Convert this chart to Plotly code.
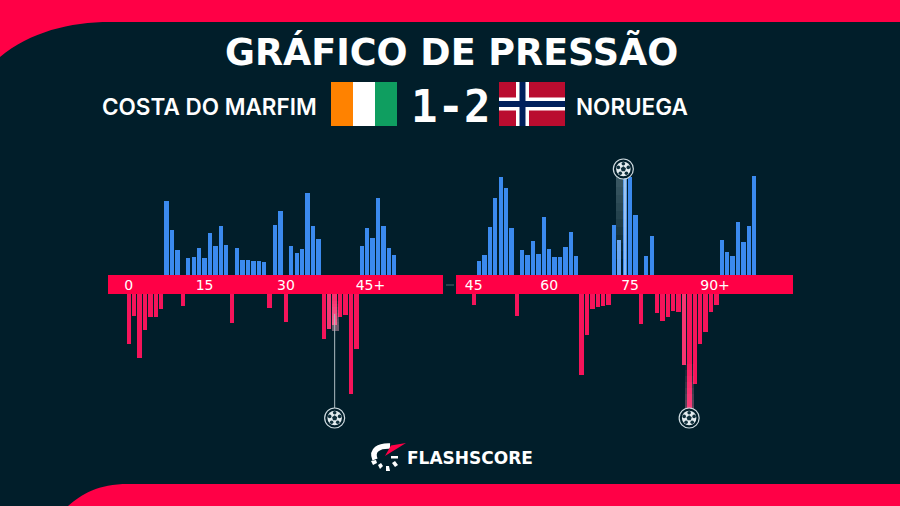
import numpy as np
import plotly.graph_objects as go

W, H = 900, 506
BG = "#011e2a"
RED = "#ff0046"
BLUE = "#3b8aee"
PINK = "#f5145a"

# ---- data (pressure per minute slot) ----
home_h1 = [0,0,0,0,0,0,0,74,45,25,0,17,18,27,17,42,29,49,30,0,27,15,15,14,14,13,0,50,64,0,29,22,26,82,49,36,0,0,0,0,0,0,0,29,47,37,77,49,27,20]
away_h1 = [50,22,64,36,23,23,15,0,0,0,12,0,0,0,0,0,0,0,0,29,0,0,0,0,0,0,14,0,0,28,0,0,0,0,0,0,45,35,31,23,21,100,55,0,0,0,0,0,0,0]
home_h2 = [0,14,20,48,77,98,87,47,0,25,20,34,21,58,26,18,18,28,43,19,0,0,0,0,0,0,50,35,98,98,60,0,19,39,0,0,0,0,0,0,0,0,0,0,0,0,35,23,19,53,33,49,99]
away_h2 = [11,0,0,0,0,0,0,0,22,0,0,0,0,0,0,0,0,0,0,0,81,41,15,13,12,11,0,0,0,0,0,30,0,0,19,27,23,17,18,71,113,90,50,38,18,11,0,0,0,0,0,0,0]
ticks_h1 = [0, 14, 29, 44.6]
labels_h1 = ["0", "15", "30", "45+"]
ticks_h2 = [0, 14, 29, 44.75]
labels_h2 = ["45", "60", "75", "90+"]
goal_home_slot = [27.75]      # second half
goal_home_level = [106]
goal_away_h1_slot = [38]
goal_away_h1_level = [124]
goal_away_h2_slot = [39.95]
goal_away_h2_level = [124]
title = "GRÁFICO DE PRESSÃO"
team_home = "COSTA DO MARFIM"
team_away = "NORUEGA"
score = "1-2"
brand = "FLASHSCORE"


def px(x):
    return x / W


def py(y):
    return 1 - y / H


def rect(x0, y0, x1, y1, color):
    return dict(type="rect", xref="paper", yref="paper", x0=px(x0), x1=px(x1), y0=py(y0), y1=py(y1),
                fillcolor=color, line=dict(width=0), layer="below")


def path(pts, color, layer="above"):
    out = []
    for tok in pts.split():
        if tok[0].isalpha():
            out.append(tok)
        else:
            a, b = tok.split(",")
            out.append(f"{px(float(a)):.5f},{py(float(b)):.5f}")
    return dict(type="path", xref="paper", yref="paper", path=" ".join(out), fillcolor=color,
                line=dict(width=0), layer=layer)


def stroke(pts, color, width):
    s = path(pts, "rgba(0,0,0,0)")
    s["line"] = dict(color=color, width=width)
    return s


shapes = [
    path("M 0,0 L 900,0 L 900,22 L 110,22 C 70,22 30,32 0,57 Z", RED, "below"),
    path("M 68,506 C 82,494 98,484 128,484 L 900,484 L 900,506 Z", RED, "below"),
    rect(108, 275, 443, 294, RED),
    rect(456, 275, 793, 294, RED),
    rect(446, 284.5, 454, 285.5, "#52646c"),
    # Ivory Coast flag
    rect(331, 82, 353, 126, "#ff8200"),
    rect(353, 82, 375, 126, "#ffffff"),
    rect(375, 82, 397, 126, "#0f9e60"),
    # Norway flag
    rect(499, 82, 565, 126, "#ba0c2f"),
    rect(516, 82, 529, 126, "#ffffff"),
    rect(499, 97.5, 565, 110.5, "#ffffff"),
    rect(519.5, 82, 525.5, 126, "#00205b"),
    rect(499, 101, 565, 107, "#00205b"),
    # Logo
    stroke("M 375,459.5 C 371,450 379,445.5 390,446", "#ffffff", 5.5),
    path("M 385,456 L 391,445.5 L 406,443 Z", RED),
    rect(391, 456, 398, 458.5, "#ffffff"),
    path("M 371,461 L 376,460 L 377,463 L 373,465 Z", "#ffffff"),
    path("M 378,465 L 381,463 L 383,466 L 380,469 Z", "#ffffff"),
    path("M 386,466 L 389,466 L 390,471 L 386,471 Z", "#ffffff"),
    path("M 392,463 L 395,461 L 398,465 L 395,467 Z", "#ffffff"),
]


def ann(text, x, y, size, family, weight="normal", anchor="center"):
    return dict(text=text, x=px(x), y=py(y), xref="paper", yref="paper", xanchor=anchor, yanchor="middle",
                showarrow=False, font=dict(family=family, size=size, color="#ffffff", weight=weight))


annotations = [
    ann(title, 451.5, 52, 36.5, "DejaVu Sans", "bold"),
    ann(team_home, 319, 106, 22.5, "Inter", 600, "right"),
    ann(team_away, 574, 106, 22.5, "Inter", 600, "left"),
    ann(score, 450, 106, 44, "DejaVu Sans Mono", "bold"),
    ann(brand, 405, 457.5, 17, "DejaVu Sans", "bold", "left"),
]

fig = go.Figure()


def bars(values, color, xa, ya):
    fig.add_trace(go.Bar(x=list(range(len(values))), y=values, marker=dict(color=color, line=dict(width=0)),
                         width=0.8, xaxis=xa, yaxis=ya, showlegend=False))


def overlay(slot, value, base, width, color, opacity, xa, ya):
    fig.add_trace(go.Bar(x=[slot], y=[value], base=[base], width=width,
                         marker=dict(color=color, line=dict(width=0)), opacity=opacity,
                         xaxis=xa, yaxis=ya, showlegend=False))


def ball(slot, level, xa, ya, ux):
    s, l = slot[0], level[0]
    common = dict(mode="markers", xaxis=xa, yaxis=ya, showlegend=False, cliponaxis=False)
    fig.add_trace(go.Scatter(x=[s], y=[l], marker=dict(size=20, color=BG, line=dict(color="#cfdbe0", width=1.2)), **common))
    fig.add_trace(go.Scatter(x=[s], y=[l], marker=dict(size=14.5, color="#e4ecef", line=dict(width=0)), **common))
    ang = np.deg2rad([90, 162, 234, 306, 18])
    up = 1 if ya == "y" else -1
    fig.add_trace(go.Scatter(x=s + 5.2 * np.cos(ang) / ux, y=l + up * 5.2 * np.sin(ang),
                             marker=dict(size=3.6, color="#10303c", line=dict(width=0)), **common))
    fig.add_trace(go.Scatter(x=[s], y=[l], marker=dict(size=5.5, symbol="pentagon", color="#10303c", line=dict(width=0)), **common))


# bars
bars(home_h1, BLUE, "x", "y")
bars(away_h1, PINK, "x", "y2")
bars(home_h2, BLUE, "x2", "y")
bars(away_h2, PINK, "x2", "y2")

# first goal: soft light at the end of its bar and a hairline to the ball
overlay(37, 35, 0, 0.8, "#ffffff", 0.15, "x", "y2")
overlay(38, 31, 0, 0.8, "#ffffff", 0.12, "x", "y2")
for L in range(6, 31, 3):
    overlay(38.15, L, 31 - L + 6, 1.2, "#ffb0c8", 0.06, "x", "y2")
fig.add_trace(go.Scatter(x=goal_away_h1_slot * 2, y=[20, goal_away_h1_level[0]], mode="lines", xaxis="x", yaxis="y2",
                         showlegend=False, line=dict(color="#aebcc2", width=1)))

# second goal (home): pale column under the ball
overlay(27, 35, 0, 0.8, "#ffffff", 0.22, "x2", "y")
for L in range(10, 91, 8):
    overlay(27.4, L, goal_home_level[0] - L, 1.9, "#b4d2dc", 0.035, "x2", "y")
overlay(28, goal_home_level[0], 0, 0.4, "#ffffff", 0.4, "x2", "y")

# third goal (away): pale bar beside it and a halo just above the ball
overlay(39, 71, 0, 0.8, "#ffffff", 0.14, "x2", "y2")
overlay(40, goal_away_h2_level[0], 0, 0.8, PINK, 1, "x2", "y2")
for L in range(6, 55, 6):
    overlay(40, L, goal_away_h2_level[0] - L, 1.7, "#ff8fb4", 0.055, "x2", "y2")

ball(goal_away_h1_slot, goal_away_h1_level, "x", "y2", 5.42)
ball(goal_home_slot, goal_home_level, "x2", "y", 5.393)
ball(goal_away_h2_slot, goal_away_h2_level, "x2", "y2", 5.393)


def xaxis(left, right, x0, pitch, tv, tt):
    return dict(domain=[px(left), px(right)], range=[(left - x0) / pitch, (right - x0) / pitch],
                anchor="y", showgrid=False, zeroline=False, showline=False, ticks="", ticklen=0,
                tickmode="array", tickvals=tv, ticktext=tt, tickangle=0,
                tickfont=dict(family="DejaVu Sans", size=14, color="#ffffff"))


fig.update_layout(
    width=W, height=H, margin=dict(l=0, r=0, t=0, b=0), paper_bgcolor=BG, plot_bgcolor="rgba(0,0,0,0)",
    barmode="overlay", bargap=0, showlegend=False, shapes=shapes, annotations=annotations,
    xaxis=xaxis(108, 443, 128.7, 5.42, ticks_h1, labels_h1),
    xaxis2=xaxis(456, 793, 473.7, 5.393, ticks_h2, labels_h2),
    yaxis=dict(domain=[py(275), py(130)], range=[0, 145], visible=False),
    yaxis2=dict(domain=[py(440), py(294)], range=[146, 0], visible=False),
)

fig.write_html("out.html", config=dict(displayModeBar=False),
               post_script="document.body.style.margin='0';document.body.style.background='%s';" % BG)
